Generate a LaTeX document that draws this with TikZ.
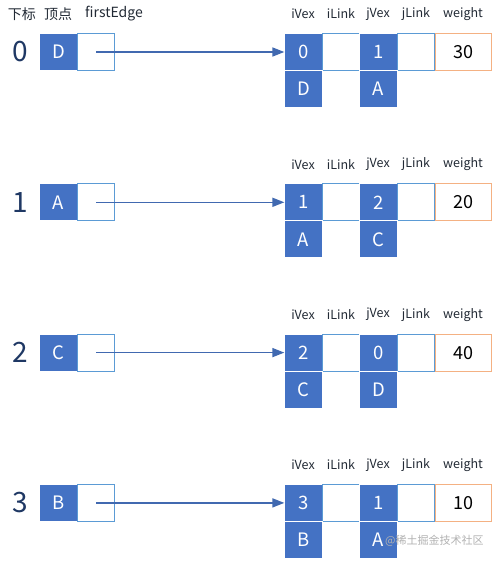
\documentclass[tikz,border=0pt]{standalone}
\usepackage{fontspec}
\setmainfont{Noto Sans CJK SC}
\usetikzlibrary{arrows.meta}
\definecolor{vblue}{HTML}{4472C4}
\definecolor{lblue}{HTML}{5B9BD5}
\definecolor{oborder}{HTML}{F4B183}
\definecolor{navy}{HTML}{1F3864}
\definecolor{hdrc}{HTML}{222A35}
\definecolor{arrc}{HTML}{4169B0}
\begin{document}
\begin{tikzpicture}[x=1pt,y=-1pt,
 fillbox/.style={draw=white, line width=0.8pt, fill=vblue, text=white, minimum width=37.5pt, minimum height=37pt, inner sep=0pt, font=\fontsize{18.5}{18.5}\selectfont},
 linkbox/.style={draw=lblue, line width=1pt, fill=white, minimum width=37.5pt, minimum height=37pt, inner sep=0pt},
 wbox/.style={draw=oborder, line width=1pt, fill=white, minimum width=56pt, minimum height=37pt, inner sep=0pt, font=\fontsize{18}{18}\selectfont},
 hdr/.style={font=\fontsize{12.5}{12.5}\selectfont, text=hdrc, inner sep=0pt},
 tophdr/.style={font=\fontsize{14}{14}\selectfont, text=hdrc, inner sep=0pt},
 idx/.style={font=\fontsize{28}{28}\selectfont, text=navy, inner sep=0pt},
 arr/.style={draw=arrc, line width=1.5pt, -{Triangle[length=12pt,width=9pt]}}]
\useasboundingbox (0,0) rectangle (493,562);
\fill[white] (0,0) rectangle (493,562);
\node[tophdr] (hidx) at (22,14) {下标};
\node[tophdr] (hvtx) at (58,14) {顶点};
\node[tophdr] (hfe) at (114,14) {firstEdge};
\foreach \r/\v/\i/\j/\a/\b/\w in {0/D/0/1/D/A/30, 1/A/1/2/A/C/20, 2/C/2/0/C/D/40, 3/B/3/1/B/A/10}{
  \pgfmathsetmacro{\yc}{52+150.3*\r}
  \pgfmathsetmacro{\yl}{\yc+37}
  \pgfmathsetmacro{\yh}{\yc-38}
  \node[idx] (n\r) at (20,\yc) {\r};
  \node[fillbox] (v\r) at (58.5,\yc) {\v};
  \node[linkbox] (fe\r) at (96,\yc) {};
  \node[fillbox] (iv\r) at (303.5,\yc) {\i};
  \node[linkbox] (il\r) at (341,\yc) {};
  \node[fillbox] (jv\r) at (378.5,\yc) {\j};
  \node[linkbox] (jl\r) at (416,\yc) {};
  \node[wbox] (w\r) at (463,\yc) {\w};
  \node[fillbox] (ivn\r) at (303.5,\yl) {\a};
  \node[fillbox] (jvn\r) at (378.5,\yl) {\b};
  \node[hdr] (hiv\r) at (303,\yh) {iVex};
  \node[hdr] (hil\r) at (341,\yh) {iLink};
  \node[hdr] (hjv\r) at (378,\yh) {jVex};
  \node[hdr] (hjl\r) at (416,\yh) {jLink};
  \node[hdr] (hw\r) at (463,\yh) {weight};
  \draw[arr] (fe\r.center) -- (iv\r.west);
}
\node[text=black!30, font=\fontsize{11}{11}\selectfont, anchor=west, inner sep=0pt] (wm) at (385,541) {@稀土掘金技术社区};
\end{tikzpicture}
\end{document}
